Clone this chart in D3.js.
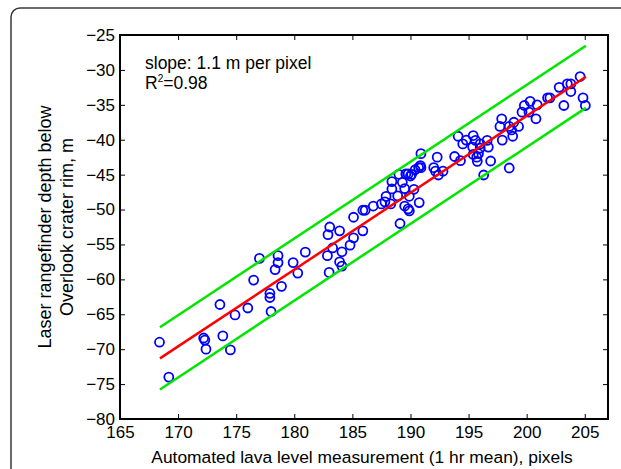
<!DOCTYPE html>
<html>
<head>
<meta charset="utf-8">
<script src="https://cdn.jsdelivr.net/npm/d3@7"></script>
<style>
  body { margin: 0; background: #fff; }
  text { font-family: 'Liberation Sans', Arial, Helvetica, sans-serif; }
</style>
</head>
<body>
<script>
var width = 621
var height = 469

// lava level (pixels) vs rangefinder depth (m)
var levelPx = [
  168.4, 169.2, 172.2, 172.3, 172.4, 173.85, 174.5, 173.6, 174.9, 176.0,
  176.5, 177.0, 177.9, 177.9, 178.0, 178.35, 178.6, 178.6, 178.9, 179.9,
  180.3, 180.95, 182.9, 183.05, 182.85, 183.0, 183.3, 183.9, 184.1, 183.9,
  184.1, 184.8, 185.1, 185.1, 185.9, 186.1, 185.9, 186.8, 187.5, 187.8,
  187.9, 188.3, 188.4, 188.4, 188.9, 189.0, 189.1, 189.3, 189.5, 189.6,
  189.8, 190.0, 190.1, 189.5, 189.8, 189.9, 189.9, 190.3, 190.4, 190.7,
  190.85, 190.9, 190.9, 190.75, 192.0, 192.15, 192.3, 192.4, 192.8, 193.8,
  194.1, 194.3, 194.5, 194.8, 195.4, 195.35, 195.6, 195.4, 195.7, 195.85,
  195.75, 196.0, 196.0, 196.3, 196.6, 196.7, 196.9, 197.7, 197.85, 197.9,
  198.5, 198.5, 198.8, 198.9, 198.7, 199.3, 199.6, 199.8, 200.2, 200.3,
  200.8, 200.9, 201.8, 202.0, 202.8, 203.2, 203.5, 203.8, 203.8, 204.6,
  204.85, 205.05
]
var depthM = [
  -69.0, -74.0, -68.4, -68.7, -70.0, -68.1, -70.1, -63.6, -65.1, -64.1,
  -60.1, -57.0, -62.0, -62.6, -64.6, -58.6, -56.6, -57.6, -61.0, -57.6,
  -59.1, -56.1, -53.6, -52.5, -56.6, -59.0, -55.5, -53.05, -56.05, -57.5,
  -58.1, -55.1, -54.05, -51.1, -50.1, -50.1, -53.05, -49.5, -49.2, -48.9,
  -48.1, -49.2, -46.0, -47.05, -48.05, -44.95, -52.0, -46.1, -47.0, -44.9,
  -44.9, -45.2, -44.95, -49.5, -49.9, -50.2, -48.1, -47.1, -44.3, -44.0,
  -43.7, -42.0, -44.0, -49.0, -44.0, -44.5, -42.5, -45.05, -44.5, -42.4,
  -39.5, -43.0, -40.6, -40.05, -39.4, -41.05, -40.1, -42.1, -42.5, -42.0,
  -43.1, -41.2, -40.6, -45.05, -40.1, -41.05, -43.05, -38.1, -37.0, -40.05,
  -44.05, -38.1, -39.5, -37.5, -38.6, -38.1, -36.05, -35.1, -36.05, -34.5,
  -37.0, -35.0, -34.0, -34.0, -32.5, -35.1, -32.0, -32.0, -33.1, -30.95,
  -34.0, -35.1
]

// fit and prediction band
var fitSlope = 1.1
var fitIntercept = -256.6
var bandHalf = 4.45
var fitRange = [168.44, 205.1]

var xTicks = [165, 170, 175, 180, 185, 190, 195, 200, 205]
var yTicks = [-80, -75, -70, -65, -60, -55, -50, -45, -40, -35, -30, -25]

var plot = { left: 120, right: 608, top: 35, bottom: 419 }

var svg = d3.select('body').append('svg')
  .attr('width', width)
  .attr('height', height)

// outer panel frame
svg.append('rect')
  .attr('x', 11).attr('y', 8)
  .attr('width', 640).attr('height', 500)
  .attr('rx', 9)
  .attr('fill', 'none')
  .attr('stroke', '#3a3a3a')
  .attr('stroke-width', 1.5)

var x = d3.scaleLinear().domain([165, 207]).range([plot.left, plot.right])
var y = d3.scaleLinear().domain([-80, -25]).range([plot.bottom, plot.top])

var g = svg.append('g')

// circles
g.selectAll('.pt')
  .data(levelPx.map(function (d, i) { return [d, depthM[i]] }))
  .enter().append('circle')
  .attr('class', 'pt')
  .attr('cx', function (d) { return x(d[0]) })
  .attr('cy', function (d) { return y(d[1]) })
  .attr('r', 4.5)
  .attr('fill', 'none')
  .attr('stroke', '#0000ff')
  .attr('stroke-width', 1.8)

var line = d3.line()
  .x(function (d) { return x(d[0]) })
  .y(function (d) { return y(d[1]) })

function fitPts (off) {
  return fitRange.map(function (v) { return [v, fitSlope * v + fitIntercept + off] })
}

g.append('path').attr('d', line(fitPts(bandHalf)))
  .attr('stroke', '#00e600').attr('stroke-width', 2.5).attr('fill', 'none')
g.append('path').attr('d', line(fitPts(-bandHalf)))
  .attr('stroke', '#00e600').attr('stroke-width', 2.5).attr('fill', 'none')
g.append('path').attr('d', line(fitPts(0)))
  .attr('stroke', '#ff0000').attr('stroke-width', 2.5).attr('fill', 'none')

// axes, ticks pointing inward on all four sides
function styleAxis (sel) {
  sel.select('.domain').remove()
  sel.selectAll('.tick line').attr('stroke', '#000').attr('stroke-width', 1)
  sel.selectAll('.tick text')
    .attr('fill', '#000')
    .style('font-size', '17px')
}

svg.append('g')
  .attr('transform', 'translate(0,' + plot.bottom + ')')
  .call(d3.axisBottom(x).tickValues(xTicks).tickSize(-5).tickPadding(7))
  .call(styleAxis)
svg.append('g')
  .attr('transform', 'translate(0,' + plot.top + ')')
  .call(d3.axisTop(x).tickValues(xTicks).tickSize(-5).tickFormat(''))
  .call(styleAxis)
svg.append('g')
  .attr('transform', 'translate(' + plot.left + ',0)')
  .call(d3.axisLeft(y).tickValues(yTicks).tickSize(-5).tickPadding(5))
  .call(styleAxis)
svg.append('g')
  .attr('transform', 'translate(' + plot.right + ',0)')
  .call(d3.axisRight(y).tickValues(yTicks).tickSize(-5).tickFormat(''))
  .call(styleAxis)

svg.append('rect')
  .attr('x', plot.left).attr('y', plot.top)
  .attr('width', plot.right - plot.left)
  .attr('height', plot.bottom - plot.top)
  .attr('fill', 'none')
  .attr('stroke', '#000')
  .attr('stroke-width', 2)

// annotation
var note = svg.append('text').attr('x', 145).attr('y', 69).style('font-size', '17.5px')
note.text('slope: 1.1 m per pixel')
var r2 = svg.append('text').attr('x', 145).attr('y', 89).style('font-size', '17.5px')
r2.append('tspan').text('R')
r2.append('tspan').attr('dy', -7).style('font-size', '10px').text('2')
r2.append('tspan').attr('dy', 7).text('=0.98')

// axis titles
svg.append('text')
  .attr('x', 362)
  .attr('y', 463)
  .attr('text-anchor', 'middle')
  .style('font-size', '17.4px')
  .text('Automated lava level measurement (1 hr mean), pixels')

var yt = svg.append('text')
  .attr('transform', 'translate(51,' + (plot.top + plot.bottom) / 2 + ') rotate(-90)')
  .attr('text-anchor', 'middle')
  .style('font-size', '18px')
yt.append('tspan').attr('x', 0).attr('y', 0).text('Laser rangefinder depth below')
yt.append('tspan').attr('x', 0).attr('y', 22).text('Overlook crater rim, m')
</script>
</body>
</html>
